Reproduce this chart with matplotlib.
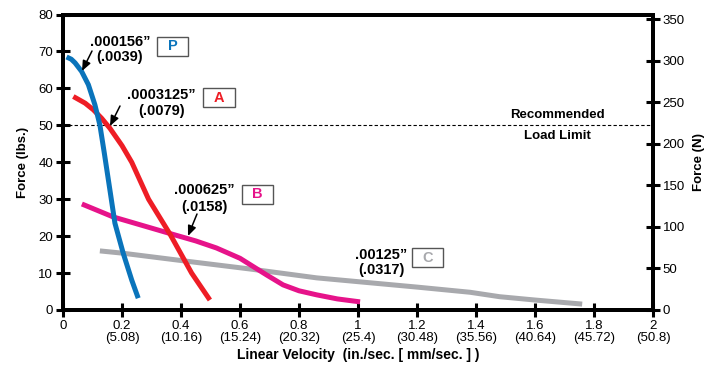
import matplotlib
matplotlib.use("Agg")
import matplotlib.pyplot as plt
from matplotlib.patches import FancyBboxPatch, FancyArrowPatch

plt.rcParams['font.family'] = ['Liberation Sans', 'DejaVu Sans']

# Data (x: in./sec, y: lbs)
p_x = [0.012, 0.028, 0.041, 0.063, 0.086, 0.108, 0.125, 0.14, 0.159, 0.176, 0.204, 0.233, 0.255]
p_y = [68.5, 67.9, 66.9, 64.6, 61.0, 55.6, 50.1, 42.5, 32.5, 23.5, 15.4, 8.1, 3.2]
a_x = [0.035, 0.075, 0.103, 0.131, 0.159, 0.2, 0.233, 0.29, 0.363, 0.436, 0.498]
a_y = [57.8, 56.0, 54.2, 51.9, 49.2, 44.5, 40.0, 30.0, 20.5, 10.0, 2.7]
b_x = [0.064, 0.17, 0.363, 0.45, 0.52, 0.6, 0.634, 0.69, 0.746, 0.8, 0.86, 0.93, 1.007]
b_y = [28.7, 25.2, 20.7, 18.7, 16.8, 14.0, 12.3, 9.5, 6.8, 5.2, 4.1, 3.0, 2.2]
c_x = [0.125, 0.2, 0.41, 0.634, 0.86, 1.2, 1.38, 1.48, 1.6, 1.76]
c_y = [16.0, 15.4, 13.3, 11.1, 8.7, 6.2, 4.8, 3.6, 2.7, 1.6]

x_ticks = [0, 0.2, 0.4, 0.6, 0.8, 1.0, 1.2, 1.4, 1.6, 1.8, 2.0]
x_tick_labels = ["0", "0.2\n(5.08)", "0.4\n(10.16)", "0.6\n(15.24)", "0.8\n(20.32)",
                 "1\n(25.4)", "1.2\n(30.48)", "1.4\n(35.56)", "1.6\n(40.64)",
                 "1.8\n(45.72)", "2\n(50.8)"]
y_ticks = [0, 10, 20, 30, 40, 50, 60, 70, 80]
yr_ticks = [0, 50, 100, 150, 200, 250, 300, 350]
load_limit = 50

BLUE = "#0a74bb"
RED = "#ee1d25"
MAG = "#e6138a"
GRAY = "#a8a9ad"

fig = plt.figure(figsize=(7.21, 3.81), dpi=100)
ax = fig.add_axes([63/721, 1-310/381, 590/721, 295.5/381])
ax.set_xlim(0, 2)
ax.set_ylim(0, 80)

lw = 3.6
kw = dict(lw=lw, solid_capstyle='butt', solid_joinstyle='round')
ax.plot(c_x, c_y, color=GRAY, zorder=3, **kw)
ax.plot(b_x, b_y, color=MAG, zorder=4, **kw)
ax.plot(a_x, a_y, color=RED, zorder=5, **kw)
ax.plot(p_x, p_y, color=BLUE, zorder=6, **kw)

ax.axhline(load_limit, color='black', lw=0.8, ls=(0, (3, 2)), zorder=2)

for s in ax.spines.values():
    s.set_linewidth(2.8)
ax.set_xticks(x_ticks)
ax.set_xticklabels(x_tick_labels, fontsize=9.5, linespacing=1.05)
ax.set_yticks(y_ticks)
ax.tick_params(axis='both', direction='inout', length=10, width=2.2, labelsize=9.5)
ax.tick_params(axis='x', pad=2)
ax.tick_params(axis='y', pad=2)
ax.set_xlabel("Linear Velocity  (in./sec. [ mm/sec. ] )", fontsize=10,
              fontweight='bold', labelpad=3)
ax.set_ylabel("Force (lbs.)", fontsize=9.5, fontweight='bold', labelpad=7)

ax2 = ax.twinx()
ax2.set_ylim(0, 80 * 4.448)
ax2.set_yticks(yr_ticks)
ax2.tick_params(axis='y', direction='inout', length=10, width=2.2, labelsize=9.5, pad=2)
for s in ax2.spines.values():
    s.set_linewidth(2.8)
ax2.set_ylabel("Force (N)", fontsize=9.5, fontweight='bold', labelpad=6)

def px(x, y):
    # pixel coords -> figure fraction
    return (x / 721, 1 - y / 381)

def label(text1, text2, cx1, y1, cx2, y2):
    fig.text(*px(cx1, y1), text1, ha='center', va='center', fontsize=10.5,
             fontweight='bold')
    fig.text(*px(cx2, y2), text2, ha='center', va='center', fontsize=10.5,
             fontweight='bold')

def box(letter, color, x0, y0, x1, y1):
    fx0, fy1 = px(x0, y0)
    fx1, fy0 = px(x1, y1)
    r = FancyBboxPatch((fx0, fy0), fx1 - fx0, fy1 - fy0, boxstyle="square,pad=0",
                       transform=fig.transFigure, fill=True, facecolor='white',
                       edgecolor='#555555', lw=1.0)
    fig.add_artist(r)
    fig.text((fx0 + fx1) / 2, (fy0 + fy1) / 2, letter, ha='center', va='center',
             fontsize=10.5, fontweight='bold', color=color)

def arrow(x0, y0, x1, y1):
    fig.add_artist(FancyArrowPatch(
        px(x0, y0), px(x1, y1), transform=fig.transFigure,
        arrowstyle='-|>,head_length=6,head_width=2.5', color='black', lw=1.1,
        shrinkA=0, shrinkB=0))

label(".000156\u201d", "(.0039)", 120, 42, 120, 57)
box("P", BLUE, 157, 37, 188, 56)
arrow(92, 51, 82, 71)

label(".0003125\u201d", "(.0079)", 161, 95, 162, 111)
box("A", RED, 203, 88, 235, 107)
arrow(120, 106, 110, 126)

label(".000625\u201d", "(.0158)", 204, 190, 204, 207)
box("B", MAG, 242, 185, 273, 204)
arrow(197, 214, 188, 236)

label(".00125\u201d", "(.0317)", 381, 255, 381, 270)
box("C", GRAY, 412, 248, 443, 267)

fig.text(*px(557, 115), "Recommended", ha='center', va='center', fontsize=9.5,
         fontweight='bold')
fig.text(*px(557, 136), "Load Limit", ha='center', va='center', fontsize=9.5,
         fontweight='bold')

fig.savefig("out.png", dpi=100)
